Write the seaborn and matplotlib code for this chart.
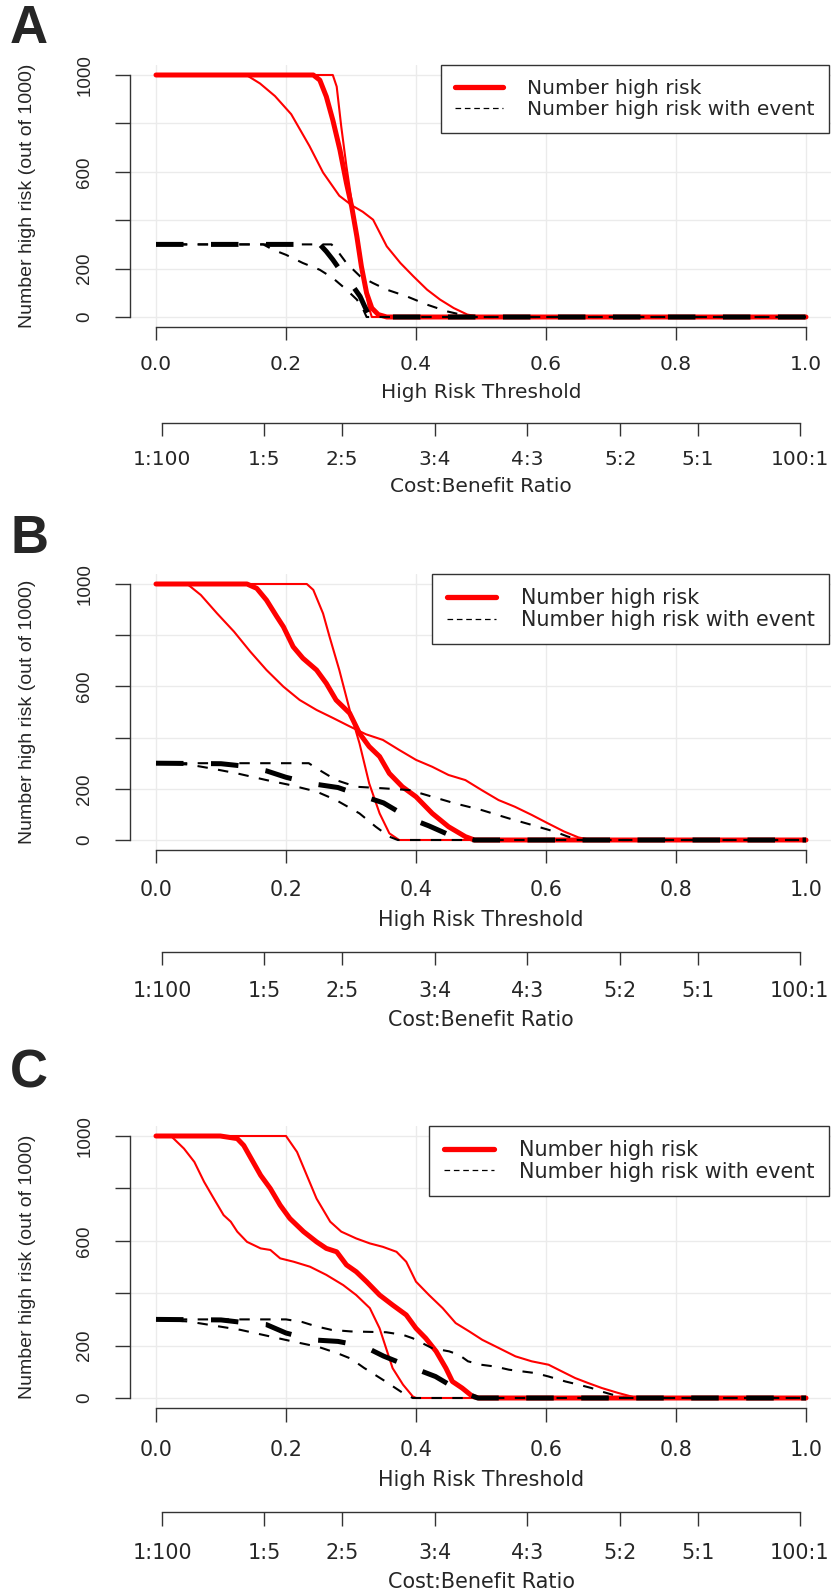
import pandas as pd
import seaborn as sns
import matplotlib.pyplot as plt
from matplotlib.lines import Line2D

# (threshold, number high risk out of 1000)
# "ci1" = band that starts dropping first, "ci2" = band that drops last
a_risk = [(0, 1000), (0.242, 1000), (0.252, 979), (0.262, 911), (0.272, 814), (0.283, 690), (0.293, 553),
          (0.301, 457), (0.309, 333), (0.316, 209), (0.324, 99), (0.332, 37), (0.342, 10), (0.355, 0), (1, 0)]
a_risk_ci1 = [(0, 1000), (0.139, 1000), (0.16, 965), (0.183, 913), (0.208, 838), (0.236, 707), (0.257, 597),
              (0.282, 501), (0.302, 460), (0.318, 435), (0.334, 402), (0.355, 292), (0.376, 223), (0.396, 168),
              (0.417, 113), (0.437, 72), (0.458, 37), (0.479, 10), (0.5, 0), (1, 0)]
a_risk_ci2 = [(0, 1000), (0.272, 1000), (0.278, 952), (0.285, 787), (0.293, 622), (0.303, 443), (0.314, 264),
              (0.321, 127), (0.327, 44), (0.332, 0), (1, 0)]
a_event = [(0, 300), (0.252, 300), (0.262, 271), (0.272, 237), (0.283, 195), (0.293, 154), (0.303, 127),
           (0.314, 85), (0.321, 44), (0.327, 10), (0.332, 0), (1, 0)]
a_event_ci1 = [(0, 300), (0.165, 300), (0.18, 278), (0.2, 257), (0.226, 223), (0.252, 195), (0.272, 161),
               (0.293, 113), (0.309, 72), (0.319, 30), (0.324, 0), (1, 0)]
a_event_ci2 = [(0, 300), (0.27, 300), (0.28, 270), (0.293, 223), (0.314, 168), (0.334, 140), (0.355, 113),
               (0.386, 85), (0.417, 51), (0.448, 23), (0.469, 10), (0.484, 0), (1, 0)]

b_risk = [(0, 1000), (0.14, 1000), (0.155, 983), (0.17, 937), (0.186, 872), (0.196, 833), (0.211, 755),
          (0.226, 710), (0.247, 664), (0.262, 612), (0.277, 547), (0.298, 495), (0.313, 417), (0.328, 365),
          (0.344, 326), (0.359, 260), (0.379, 208), (0.4, 169), (0.425, 104), (0.45, 52), (0.476, 13),
          (0.49, 0), (1, 0)]
b_risk_ci1 = [(0, 1000), (0.048, 1000), (0.069, 957), (0.094, 885), (0.12, 814), (0.145, 736), (0.17, 664),
              (0.196, 599), (0.221, 547), (0.247, 508), (0.272, 477), (0.297, 445), (0.323, 413), (0.349, 391),
              (0.374, 352), (0.4, 313), (0.425, 286), (0.45, 254), (0.476, 234), (0.501, 195), (0.527, 156),
              (0.552, 130), (0.578, 98), (0.603, 65), (0.628, 33), (0.65, 10), (0.67, 0), (1, 0)]
b_risk_ci2 = [(0, 1000), (0.232, 1000), (0.242, 977), (0.257, 885), (0.267, 794), (0.282, 664), (0.298, 508),
              (0.313, 378), (0.328, 221), (0.344, 104), (0.359, 26), (0.374, 0), (1, 0)]
b_event = [(0, 300), (0.1, 298), (0.13, 290), (0.17, 270), (0.2, 245), (0.24, 220), (0.28, 205), (0.32, 170),
           (0.35, 145), (0.39, 85), (0.42, 55), (0.46, 10), (0.49, 0), (1, 0)]
b_event_ci1 = [(0, 300), (0.05, 295), (0.084, 280), (0.125, 260), (0.17, 234), (0.206, 215), (0.247, 189),
               (0.277, 156), (0.313, 104), (0.338, 52), (0.359, 13), (0.372, 0), (1, 0)]
b_event_ci2 = [(0, 300), (0.235, 300), (0.247, 280), (0.277, 234), (0.308, 208), (0.349, 202), (0.39, 195),
               (0.425, 169), (0.46, 143), (0.501, 117), (0.542, 85), (0.578, 59), (0.613, 33), (0.634, 13),
               (0.655, 0), (1, 0)]

c_risk = [(0, 1000), (0.099, 1000), (0.125, 990), (0.135, 964), (0.145, 920), (0.161, 850), (0.176, 799),
          (0.191, 736), (0.206, 685), (0.227, 635), (0.247, 596), (0.262, 571), (0.278, 558), (0.293, 508),
          (0.308, 482), (0.324, 444), (0.344, 393), (0.364, 355), (0.385, 317), (0.4, 266), (0.415, 228),
          (0.431, 178), (0.446, 114), (0.456, 63), (0.471, 38), (0.487, 6), (0.497, 0), (1, 0)]
c_risk_ci1 = [(0, 1000), (0.023, 1000), (0.043, 952), (0.059, 901), (0.074, 825), (0.089, 761), (0.104, 698),
              (0.115, 673), (0.125, 635), (0.14, 596), (0.161, 571), (0.176, 565), (0.191, 533), (0.212, 520),
              (0.237, 501), (0.262, 470), (0.288, 431), (0.308, 393), (0.329, 343), (0.344, 266), (0.354, 190),
              (0.364, 114), (0.38, 51), (0.395, 6), (0.4, 0), (1, 0)]
c_risk_ci2 = [(0, 1000), (0.2, 1000), (0.217, 939), (0.232, 850), (0.247, 761), (0.268, 673), (0.285, 635),
              (0.308, 609), (0.329, 590), (0.349, 577), (0.37, 558), (0.385, 520), (0.4, 444), (0.42, 393),
              (0.441, 343), (0.461, 286), (0.482, 254), (0.502, 222), (0.528, 190), (0.553, 159), (0.578, 140),
              (0.604, 127), (0.624, 102), (0.645, 76), (0.665, 57), (0.686, 38), (0.71, 20), (0.74, 0), (1, 0)]
c_event = [(0, 300), (0.1, 298), (0.145, 285), (0.17, 280), (0.2, 248), (0.24, 222), (0.28, 216), (0.32, 197),
           (0.35, 160), (0.39, 120), (0.43, 82), (0.46, 38), (0.48, 15), (0.495, 0), (1, 0)]
c_event_ci1 = [(0, 300), (0.05, 292), (0.08, 280), (0.13, 260), (0.17, 238), (0.21, 216), (0.25, 195),
               (0.28, 170), (0.3, 150), (0.32, 115), (0.35, 68), (0.38, 19), (0.395, 0), (1, 0)]
c_event_ci2 = [(0, 300), (0.2, 300), (0.225, 290), (0.247, 273), (0.27, 260), (0.3, 254), (0.354, 251),
               (0.38, 241), (0.395, 228), (0.41, 209), (0.425, 190), (0.451, 178), (0.466, 165), (0.48, 140),
               (0.5, 127), (0.522, 120), (0.543, 108), (0.584, 95), (0.604, 82), (0.63, 63), (0.65, 51),
               (0.67, 38), (0.685, 25), (0.72, 0), (1, 0)]

thresh_ticks = [0, 0.2, 0.4, 0.6, 0.8, 1.0]
thresh_labels = ['0.0', '0.2', '0.4', '0.6', '0.8', '1.0']
y_ticks = [0, 200, 400, 600, 800, 1000]
y_labels = ['0', '200', '', '600', '', '1000']
cb_labels = ['1:100', '1:5', '2:5', '3:4', '4:3', '5:2', '5:1', '100:1']
cb_cost = [1, 1, 2, 3, 4, 5, 5, 100]
cb_benefit = [100, 5, 5, 4, 3, 2, 1, 1]
cb_pos = [c / (c + b) for c, b in zip(cb_cost, cb_benefit)]
legend_labels = ['Number high risk', 'Number high risk with event']

sns.set_style("white")
plt.rcParams['font.family'] = ['DejaVu Sans']
VFONT = 'Liberation Sans'   # the vertical texts are narrower than the horizontal ones

W, H = 831, 1591
fig = plt.figure(figsize=(W / 100, H / 100), dpi=100)

# letter, y of 1000 / y of 0 in pixels, vertical scale of that panel, letter baseline
panels = [
    ('A', 75, 317, 1.0, 43, (a_risk, a_risk_ci1, a_risk_ci2, a_event, a_event_ci1, a_event_ci2)),
    ('B', 584, 840, 1.058, 553, (b_risk, b_risk_ci1, b_risk_ci2, b_event, b_event_ci1, b_event_ci2)),
    ('C', 1136, 1398, 1.083, 1088, (c_risk, c_risk_ci1, c_risk_ci2, c_event, c_event_ci1, c_event_ci2)),
]

AX_COL = '#333333'
PT = 0.72  # points per pixel at dpi 100

for letter, y1000, y0, s, base, curves in panels:
    unit = (y0 - y1000) / 1000
    top, bottom = y1000 - 40 * unit, y0 + 40 * unit
    left, right = 130, 832
    hpx = bottom - top
    ax = fig.add_axes([left / W, 1 - bottom / H, (right - left) / W, hpx / H])
    fs = 14.5 * (1 + (s - 1) * 0.4)

    risk, risk1, risk2, ev, ev1, ev2 = [pd.DataFrame(c, columns=['threshold', 'n']) for c in curves]
    for d in (risk1, risk2):
        sns.lineplot(data=d, x='threshold', y='n', ax=ax, color='red', lw=1.5, sort=False, estimator=None)
    sns.lineplot(data=risk, x='threshold', y='n', ax=ax, color='red', lw=3.6, sort=False, estimator=None)
    for d in (ev1, ev2):
        sns.lineplot(data=d, x='threshold', y='n', ax=ax, color='black', lw=1.5,
                     linestyle=(0, (5, 5)), sort=False, estimator=None)
    sns.lineplot(data=ev, x='threshold', y='n', ax=ax, color='black', lw=3.6,
                 linestyle=(0, (5.5, 5.5)), sort=False, estimator=None)

    ax.set_xlim(-0.04, 1.04)
    ax.set_ylim(-40, 1040)
    ax.set_xticks(thresh_ticks, thresh_labels)
    ax.set_yticks(y_ticks, y_labels)
    ax.grid(True, color='#ebebeb', lw=1)
    ax.set_axisbelow(True)
    for sp in ['top', 'right']:
        ax.spines[sp].set_visible(False)
    ax.spines['left'].set_bounds(0, 1000)
    ax.spines['bottom'].set_bounds(0, 1)
    for sp in ['left', 'bottom']:
        ax.spines[sp].set_color(AX_COL)
        ax.spines[sp].set_linewidth(1)

    xtl = 12.5 * s
    ax.tick_params(axis='x', bottom=True, direction='out', length=xtl * PT, width=1, color=AX_COL,
                   labelsize=fs, pad=(38 * s - xtl) * PT)
    ax.tick_params(axis='y', left=True, direction='out', length=15 * PT, width=1, color=AX_COL,
                   labelsize=13.5, labelfontfamily=VFONT, pad=(130 - 15 - 85) * PT, labelrotation=90)
    for lab in ax.get_xticklabels():
        lab.set_va('center')
    for lab in ax.get_yticklabels():
        lab.set_va('center')
        lab.set_ha('center')

    ax.set_xlabel('High Risk Threshold', fontsize=fs, va='center')
    ax.xaxis.set_label_coords(0.5, -(66 * s) / hpx)
    ax.set_ylabel('Number high risk (out of 1000)', fontsize=14, fontfamily=VFONT, va='center')
    ax.yaxis.set_label_coords((28 - left) / (right - left), 0.5)

    sec = ax.secondary_xaxis(-(96 * s) / hpx)
    sec.set_xticks(cb_pos, cb_labels)
    sec.spines['bottom'].set_bounds(cb_pos[0], cb_pos[-1])
    sec.spines['bottom'].set_color(AX_COL)
    sec.spines['bottom'].set_linewidth(1)
    sec.tick_params(axis='x', bottom=True, direction='out', length=xtl * PT, width=1, color=AX_COL,
                    labelsize=fs, pad=(37 * s - xtl) * PT)
    for lab in sec.get_xticklabels():
        lab.set_va('center')
    sec.set_xlabel('Cost:Benefit Ratio', fontsize=fs, va='center')
    sec.xaxis.set_label_coords(0.5, -(160 * s) / hpx, transform=ax.transAxes)

    handles = [Line2D([], [], color='red', lw=3.8),
               Line2D([], [], color='black', lw=0.9, linestyle=(0, (4.5, 3)))]
    leg = ax.legend(handles, legend_labels, loc='upper right', bbox_to_anchor=((829 - left) / (right - left), 1),
                    borderaxespad=0, fontsize=fs, frameon=True, fancybox=False, framealpha=1,
                    edgecolor=AX_COL, handlelength=2.4, handletextpad=1.2, borderpad=0.7, labelspacing=0.08)
    leg.get_frame().set_linewidth(1)

    fig.text(10 / W, 1 - base / H, letter, fontsize=38, fontweight='bold', fontfamily='Liberation Sans',
             ha='left', va='baseline')

fig.savefig('out.png', dpi=100)
